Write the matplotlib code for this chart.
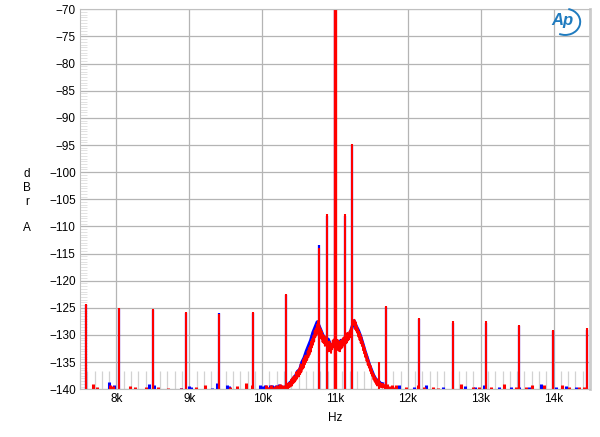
"""
AP-style FFT spectrum (dBrA vs Hz) around an 11 kHz tone, two channels.
Writes out.png (600 x 437 px).
"""

import matplotlib
matplotlib.use("Agg")
import matplotlib.pyplot as plt
from matplotlib.patches import Arc
from matplotlib.ticker import MultipleLocator, FixedLocator, FixedFormatter

plt.rcParams["font.family"] = ["Liberation Sans", "DejaVu Sans"]

# ── data ────────────────────────────────────────────────────────────────
x_ticks = [8000, 9000, 10000, 11000, 12000, 13000, 14000]
x_tick_labels = ["8k", "9k", "10k", "11k", "12k", "13k", "14k"]
y_ticks = list(range(-140, -65, 5))

# discrete spurs (Hz, dBrA)
red_spur_f = [7578, 8034, 8496, 8952, 9414, 9870, 10326, 10778, 10893,
              11007, 11134, 11240, 11600, 11701, 12158, 12614, 13075,
              13531, 13993, 14455]
red_spur_db = [-124.2, -125.1, -125.3, -125.8, -126.2, -125.8, -122.4,
               -114.0, -107.8, -60.0, -107.8, -94.9, -135.0, -124.6,
               -126.8, -127.5, -127.5, -128.2, -129.0, -128.8]
blue_spur_f = [7578, 8034, 8496, 8952, 9414, 9870, 10326, 10778, 10893,
               11007, 11134, 11240, 11701, 12158, 12614, 13075, 13531,
               13993, 14455]
blue_spur_db = [-124.4, -125.3, -125.4, -125.9, -125.9, -126.0, -122.6,
                -113.4, -108.0, -60.0, -108.0, -95.1, -124.8, -127.0,
                -127.7, -127.7, -128.4, -129.2, -129.0]

# noise hump around the tone (jagged trace)
red_hump_f = [10330, 10338, 10346, 10354, 10362, 10370, 10378, 10386, 10394,
              10402, 10410, 10418, 10426, 10434, 10442, 10450, 10458, 10466,
              10474, 10482, 10490, 10498, 10506, 10514, 10522, 10530, 10538,
              10546, 10554, 10562, 10570, 10578, 10586, 10594, 10602, 10610,
              10618, 10626, 10634, 10642, 10650, 10658, 10666, 10674, 10682,
              10690, 10698, 10706, 10714, 10722, 10730, 10738, 10746, 10754,
              10762, 10770, 10790, 10798, 10806, 10814, 10822, 10830, 10838,
              10846, 10854, 10862, 10870, 10878, 10906, 10914, 10922, 10930,
              10938, 10946, 10954, 10962, 10970, 10978, 10986, 11028, 11036,
              11044, 11052, 11060, 11068, 11076, 11084, 11092, 11100, 11108,
              11116, 11124, 11146, 11154, 11162, 11170, 11178, 11186, 11194,
              11202, 11210, 11218, 11226, 11232, 11250, 11258, 11266, 11274,
              11282, 11290, 11298, 11306, 11314, 11322, 11330, 11338, 11346,
              11354, 11362, 11370, 11378, 11386, 11394, 11402, 11410, 11418,
              11426, 11434, 11442, 11450, 11458, 11466, 11474, 11482, 11490,
              11498, 11506, 11514, 11522, 11530, 11538, 11546, 11554, 11562,
              11570, 11578, 11586, 11594, 11610, 11618, 11626, 11634, 11642,
              11650, 11658, 11666, 11674, 11682, 11690, 11698]
red_hump_db = [-140.0, -139.2, -139.9, -139.0, -139.7, -138.8, -139.6,
               -138.9, -139.4, -138.2, -139.3, -138.0, -138.9, -137.6, -138.7,
               -137.9, -138.4, -136.9, -138.1, -136.8, -137.7, -136.5, -137.6,
               -136.1, -137.2, -135.4, -136.8, -135.9, -136.3, -134.6, -136.0,
               -134.2, -135.4, -133.8, -135.0, -133.9, -134.6, -133.0, -134.1,
               -132.4, -133.6, -132.0, -133.1, -131.2, -132.3, -130.7, -131.8,
               -130.1, -131.2, -129.2, -130.4, -128.8, -130.0, -128.1, -129.6,
               -127.4, -128.6, -130.4, -128.9, -130.7, -129.4, -131.3, -130.0,
               -131.5, -130.2, -132.0, -130.6, -131.8, -131.4, -133.0, -131.2,
               -132.9, -131.6, -133.3, -131.8, -132.6, -131.0, -132.2, -130.8,
               -130.9, -132.7, -131.0, -132.9, -131.4, -133.0, -131.2, -132.5,
               -130.9, -132.3, -130.6, -131.9, -130.4, -131.6, -130.1, -131.4,
               -129.6, -131.0, -129.9, -130.8, -129.3, -130.4, -128.8, -129.9,
               -128.3, -127.9, -128.1, -127.2, -128.9, -127.6, -129.2, -128.4,
               -129.6, -128.9, -130.3, -129.4, -130.9, -129.8, -131.5, -130.4,
               -132.0, -131.2, -132.8, -131.9, -133.4, -132.5, -134.1, -133.2,
               -134.8, -133.9, -135.5, -134.6, -136.0, -135.3, -136.6, -135.7,
               -137.1, -136.4, -137.6, -137.0, -138.2, -137.4, -138.6, -137.9,
               -139.0, -138.2, -139.3, -138.5, -139.1, -138.7, -139.5, -138.9,
               -139.6, -139.1, -139.7, -139.0, -139.6, -139.2, -139.8, -139.4,
               -140.0]
blue_hump_f = [10337, 10367, 10397, 10427, 10457, 10487, 10517, 10547, 10577,
               10607, 10637, 10667, 10697, 10727, 10757, 10802, 10832, 10862,
               10907, 10937, 10967, 11022, 11052, 11082, 11112, 11157, 11187,
               11217, 11262, 11292, 11322, 11352, 11382, 11412, 11442, 11472,
               11502, 11532, 11562, 11592, 11622, 11652]
blue_hump_db = [-139.4, -139.0, -138.6, -138.0, -137.6, -136.7, -136.4,
                -135.0, -134.2, -133.0, -132.0, -131.0, -129.6, -128.6,
                -127.6, -129.0, -130.0, -130.6, -130.8, -131.8, -132.0,
                -131.4, -131.8, -131.0, -131.3, -130.8, -130.3, -129.3,
                -127.4, -128.4, -129.2, -130.3, -131.6, -133.0, -134.2,
                -135.5, -136.5, -137.5, -138.2, -138.4, -138.9, -139.0]

# small specks rising out of the -140 floor
red_speck_f = [7673, 7740, 7911, 7960, 8185, 8249, 8413, 8573, 8710, 8893,
               9098, 9212, 9555, 9655, 9783, 9860, 10057, 10090, 10120, 10150,
               10180, 10210, 10240, 10265, 10290, 11720, 11750, 11780, 11810,
               11838, 11975, 12134, 12226, 12340, 12420, 12729, 12888, 12980,
               13140, 13322, 13482, 13619, 13710, 13870, 14121, 14212, 14349,
               14420]
red_speck_db = [-139.0, -139.5, -139.2, -139.4, -139.4, -139.5, -139.5,
                -139.6, -139.8, -139.8, -139.5, -139.2, -139.5, -139.4,
                -138.9, -139.3, -139.3, -139.5, -139.2, -139.6, -139.4,
                -139.3, -139.0, -139.4, -139.3, -139.0, -139.4, -139.2,
                -139.5, -139.3, -139.6, -139.3, -139.5, -139.6, -139.7,
                -139.0, -139.5, -139.6, -139.6, -139.1, -139.5, -139.6,
                -139.2, -139.3, -139.3, -139.5, -139.6, -139.5]
blue_speck_f = [7897, 7970, 8449, 8518, 8893, 8997, 9030, 9317, 9381, 9523,
                9545, 9975, 10010, 10040, 10075, 10105, 10135, 10165, 10195,
                10225, 10255, 11884, 12089, 12249, 12480, 12790, 12927, 13048,
                13253, 13413, 13527, 13664, 13824, 14030, 14170, 14304]
blue_speck_db = [-138.6, -139.2, -139.0, -139.3, -139.7, -139.4, -139.5,
                 -139.7, -138.9, -139.2, -139.4, -139.3, -139.4, -139.2,
                 -139.5, -139.3, -139.2, -139.4, -139.3, -139.1, -139.3,
                 -139.2, -139.5, -139.3, -139.6, -139.4, -139.6, -139.3,
                 -139.6, -139.5, -139.6, -139.5, -139.0, -139.5, -139.4,
                 -139.5]

RED = "#ff0000"
BLUE = "#0000ff"
FLOOR = -141.0

fig = plt.figure(figsize=(6.0, 4.37), dpi=100)
ax = fig.add_axes([0.1333, 0.1092, 0.85, 0.8695])

# ── blue channel (underneath) ───────────────────────────────────────────
ax.vlines(blue_speck_f, FLOOR, blue_speck_db, color=BLUE, lw=2.2)
ax.plot(blue_hump_f, blue_hump_db, color=BLUE, lw=2.4)
ax.vlines(blue_spur_f, FLOOR, blue_spur_db, color=BLUE, lw=1.6)

# ── red channel (on top) ────────────────────────────────────────────────
ax.vlines(red_speck_f, FLOOR, red_speck_db, color=RED, lw=2.2)
ax.plot(red_hump_f, red_hump_db, color=RED, lw=1.4)
ax.vlines(red_spur_f, FLOOR, red_spur_db, color=RED, lw=1.5)
main = red_spur_db.index(max(red_spur_db))
ax.vlines(red_spur_f[main], FLOOR, red_spur_db[main], color=RED, lw=2.4)

ax.set_xlim(7500, 14500)
ax.set_ylim(-140, -70)

ax.xaxis.set_major_locator(FixedLocator(x_ticks))
ax.xaxis.set_major_formatter(FixedFormatter(x_tick_labels))
ax.xaxis.set_minor_locator(MultipleLocator(100))
ax.yaxis.set_major_locator(FixedLocator(y_ticks))
ax.yaxis.set_minor_locator(MultipleLocator(0.5))

ax.grid(True, which="major", color="#b4b4b4", lw=0.9)
ax.set_axisbelow(True)
ax.tick_params(which="major", length=0, labelsize=8.5, pad=3)
ax.tick_params(axis="x", which="minor", direction="in", length=13,
               color="#d2d2d2", width=0.9)
ax.tick_params(axis="y", which="minor", direction="in", length=5,
               color="#d8d8d8", width=0.5)

for side in ("left", "bottom", "top"):
    ax.spines[side].set_color("#c0c0c0")
    ax.spines[side].set_linewidth(0.8)
ax.spines["right"].set_color("#cccccc")
ax.spines["right"].set_linewidth(2.0)

# axis titles
fig.text(0.045, 0.570, "d\nB\nr", ha="center", va="center", fontsize=8.5,
         linespacing=1.25)
fig.text(0.045, 0.478, "A", ha="center", va="center", fontsize=8.5)
fig.text(0.558, 0.043, "Hz", ha="center", va="center", fontsize=8.5)

# AP logo
fig.text(0.938, 0.952, "Ap", ha="center", va="center", fontsize=12,
         style="italic", weight="bold", color="#1f7bbf")
fig.patches.append(Arc((0.942, 0.950), 0.050, 0.060, theta1=-110, theta2=80,
                       transform=fig.transFigure, color="#1f7bbf", lw=1.4))

fig.savefig("out.png", dpi=100)
